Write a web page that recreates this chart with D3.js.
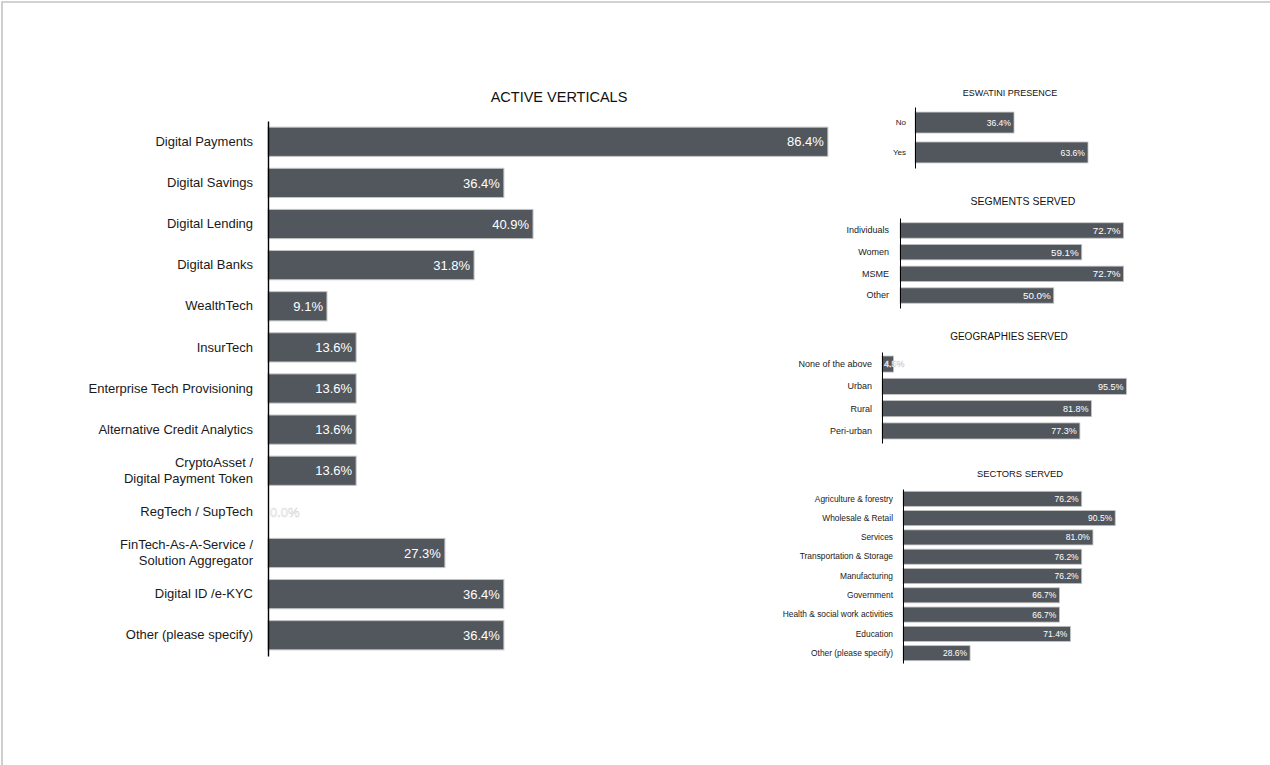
<!DOCTYPE html>
<html>
<head>
<meta charset="utf-8">
<script src="https://cdn.jsdelivr.net/npm/d3@7"></script>
<style>
  html, body { margin: 0; padding: 0; background: #fff; }
  svg { display: block; font-family: "Liberation Sans", Arial, Helvetica, sans-serif; }
</style>
</head>
<body>
<svg id="chart" width="1270" height="765"></svg>
<script>
// ---- data ----
const verticalCategories = [
  "Digital Payments", "Digital Savings", "Digital Lending", "Digital Banks",
  "WealthTech", "InsurTech", "Enterprise Tech Provisioning",
  "Alternative Credit Analytics", "CryptoAsset /\nDigital Payment Token",
  "RegTech / SupTech", "FinTech-As-A-Service /\nSolution Aggregator",
  "Digital ID /e-KYC", "Other (please specify)"
];
const verticalValues = [86.4, 36.4, 40.9, 31.8, 9.1, 13.6, 13.6, 13.6, 13.6, 0.0, 27.3, 36.4, 36.4];

const presenceCategories = ["No", "Yes"];
const presenceValues = [36.4, 63.6];

const segmentCategories = ["Individuals", "Women", "MSME", "Other"];
const segmentValues = [72.7, 59.1, 72.7, 50.0];

const geographyCategories = ["None of the above", "Urban", "Rural", "Peri-urban"];
const geographyValues = [4.5, 95.5, 81.8, 77.3];

const sectorCategories = [
  "Agriculture & forestry", "Wholesale & Retail", "Services",
  "Transportation & Storage", "Manufacturing", "Government",
  "Health & social work activities", "Education", "Other (please specify)"
];
const sectorValues = [76.2, 90.5, 81.0, 76.2, 76.2, 66.7, 66.7, 71.4, 28.6];

// ---- drawing ----
const svg = d3.select("#chart");
const BAR = "#52575e";
const BAR_EDGE = "#c3c3c3";

// page frame
svg.append("path")
  .attr("d", "M2,765 V2 H1270")
  .attr("fill", "none")
  .attr("stroke", "#c4c4c4")
  .attr("stroke-width", 1.6);

function drawPanel(cfg) {
  const g = svg.append("g");
  const x = d3.scaleLinear().domain([0, 100]).range([cfg.x0, cfg.x0 + cfg.pxPer100]);
  const y = d3.scaleBand()
    .domain(cfg.categories)
    .range(cfg.yRange)
    .paddingInner(cfg.padIn)
    .paddingOuter(cfg.padOut);
  const rows = cfg.categories.map((c, i) => ({ c, v: cfg.values[i] }));

  g.append("text")
    .attr("x", cfg.titleX)
    .attr("y", cfg.titleY)
    .attr("text-anchor", "middle")
    .attr("font-size", cfg.titleSize)
    .attr("fill", "#111")
    .text(cfg.title);

  g.selectAll("rect.bar").data(rows).join("rect")
    .attr("class", "bar")
    .attr("x", x(0))
    .attr("y", d => y(d.c))
    .attr("width", d => x(d.v) - x(0))
    .attr("height", y.bandwidth())
    .attr("fill", BAR)
    .attr("stroke", BAR_EDGE)
    .attr("stroke-width", cfg.edge);

  const labels = g.selectAll("text.val").data(rows).join("text")
    .attr("class", "val")
    .attr("y", d => y(d.c) + y.bandwidth() / 2)
    .attr("dy", "0.36em")
    .attr("font-size", cfg.valueSize)
    .attr("fill", "#fff")
    .text(d => d.v.toFixed(1) + "%");

  // labels that do not fit inside their bar start at the baseline instead
  labels.each(function (d) {
    const t = d3.select(this);
    const w = this.getComputedTextLength();
    const bw = x(d.v) - x(0);
    if (bw < w + 8) {
      t.attr("x", x(0) + 2).attr("text-anchor", "start")
        .attr("stroke", "#d8d8d8").attr("stroke-width", 0.5);
    } else {
      t.attr("x", x(d.v) - cfg.valuePad).attr("text-anchor", "end");
    }
  });

  const axis = d3.axisLeft(y).tickSize(0).tickSizeOuter(0).tickPadding(cfg.tickPad);
  const ag = g.append("g").attr("transform", `translate(${x(0)},0)`).call(axis);
  ag.select(".domain").attr("stroke", "#000").attr("stroke-width", cfg.axisWidth);
  ag.selectAll(".tick text")
    .attr("font-size", cfg.labelSize)
    .attr("font-family", "Liberation Sans, Arial, sans-serif")
    .attr("fill", "#1a1a1a")
    .each(function (d) {
      const parts = d.split("\n");
      if (parts.length > 1) {
        const t = d3.select(this).text(null);
        const lh = cfg.lineHeight;
        parts.forEach((p, i) => {
          t.append("tspan")
            .attr("x", -cfg.tickPad)
            .attr("dy", i === 0 ? "0.32em" : lh + "px")
            .attr("y", i === 0 ? -lh * (parts.length - 1) / 2 : null)
            .text(p);
        });
        t.attr("dy", null);
      }
    });
}

drawPanel({
  title: "ACTIVE VERTICALS", titleX: 559, titleY: 102, titleSize: 14.5,
  categories: verticalCategories, values: verticalValues,
  x0: 268, pxPer100: 648, yRange: [121, 656], padIn: 0.29, padOut: 0.15,
  labelSize: 13, valueSize: 13, valuePad: 4, tickPad: 15, lineHeight: 16,
  axisWidth: 1.4, edge: 1
});

drawPanel({
  title: "ESWATINI PRESENCE", titleX: 1010, titleY: 96, titleSize: 9,
  categories: presenceCategories, values: presenceValues,
  x0: 915, pxPer100: 272, yRange: [107, 168], padIn: 0.3, padOut: 0.17,
  labelSize: 8, valueSize: 8.6, valuePad: 3, tickPad: 9, lineHeight: 10,
  axisWidth: 1, edge: 0.8
});

drawPanel({
  title: "SEGMENTS SERVED", titleX: 1023, titleY: 205, titleSize: 10.5,
  categories: segmentCategories, values: segmentValues,
  x0: 900, pxPer100: 307.5, yRange: [218, 308], padIn: 0.29, padOut: 0.22,
  labelSize: 9, valueSize: 9.8, valuePad: 3, tickPad: 11, lineHeight: 10,
  axisWidth: 1, edge: 0.8
});

drawPanel({
  title: "GEOGRAPHIES SERVED", titleX: 1009, titleY: 340, titleSize: 10,
  categories: geographyCategories, values: geographyValues,
  x0: 882, pxPer100: 256, yRange: [352, 443], padIn: 0.28, padOut: 0.18,
  labelSize: 9, valueSize: 9, valuePad: 3, tickPad: 10, lineHeight: 10,
  axisWidth: 1, edge: 0.8
});

drawPanel({
  title: "SECTORS SERVED", titleX: 1020, titleY: 477, titleSize: 9.4,
  categories: sectorCategories, values: sectorValues,
  x0: 903, pxPer100: 234.5, yRange: [489, 663], padIn: 0.22, padOut: 0.12,
  labelSize: 8.4, valueSize: 8.5, valuePad: 3, tickPad: 10, lineHeight: 9,
  axisWidth: 1, edge: 0.8
});
</script>
</body>
</html>
